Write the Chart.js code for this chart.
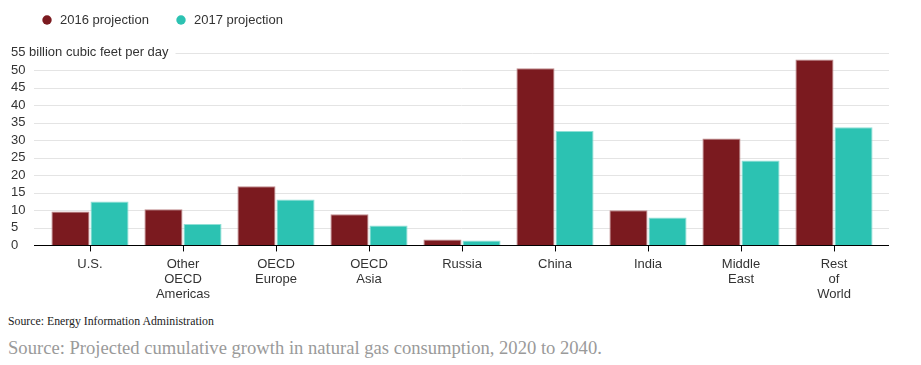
<!DOCTYPE html>
<html>
<head>
<meta charset="utf-8">
<script src="https://cdn.jsdelivr.net/npm/chart.js@4"></script>
<style>
  html, body { margin: 0; padding: 0; background: #fff; }
  #wrap { position: relative; width: 921px; height: 365px; overflow: hidden; }
  #c { position: absolute; left: 0; top: 0; }
  .src { position: absolute; left: 8px; top: 314px; font-family: "Liberation Serif", "DejaVu Serif", serif; font-size: 11.8px; color: #222; white-space: nowrap; }
  .sub { position: absolute; left: 8px; top: 337px; font-family: "Liberation Serif", "DejaVu Serif", serif; font-size: 18.6px; color: #9a9a9a; white-space: nowrap; }
</style>
</head>
<body>
<div id="wrap">
  <canvas id="c" width="921" height="310"></canvas>
  <div class="src">Source: Energy Information Administration</div>
  <div class="sub">Source: Projected cumulative growth in natural gas consumption, 2020 to 2040.</div>
</div>
<script>
const categories = [["U.S."], ["Other", "OECD", "Americas"], ["OECD", "Europe"], ["OECD", "Asia"], ["Russia"], ["China"], ["India"], ["Middle", "East"], ["Rest", "of", "World"]];
const seriesNames = ["2016 projection", "2017 projection"];
const values2016 = [9.7, 10.3, 16.9, 8.9, 1.7, 50.5, 10.0, 30.5, 53.0];
const values2017 = [12.5, 6.1, 13.1, 5.7, 1.4, 32.6, 8.0, 24.2, 33.7];
const yTickLabels = ["0", "5", "10", "15", "20", "25", "30", "35", "40", "45", "50", "55 billion cubic feet per day"];
const colors = ["#7b1a1f", "#2cc2b2"];
const borderColors = ["#c08a8d", "#8fe0d6"];

Chart.defaults.font.family = '"Liberation Sans", Arial, sans-serif';
Chart.defaults.font.size = 13;
Chart.defaults.color = '#333';

const GRID_LEFT = 34, GRID_RIGHT = 889, LABEL_X = 11, AREA_LEFT = 43.5;

const gridPlugin = {
  id: 'gridPlugin',
  beforeDatasetsDraw(chart) {
    const ctx = chart.ctx;
    const y = chart.scales.y;
    ctx.save();
    ctx.lineWidth = 1;
    ctx.strokeStyle = '#e4e4e4';
    const n = y.ticks.length;
    y.ticks.forEach((t, i) => {
      if (t.value === 0) return;
      const py = Math.round(y.getPixelForValue(t.value)) + 0.5;
      let x0 = GRID_LEFT;
      if (i === n - 1) {
        ctx.font = '13px "Liberation Sans", Arial, sans-serif';
        x0 = LABEL_X + ctx.measureText(yTickLabels[i]).width + 7;
      }
      ctx.beginPath();
      ctx.moveTo(x0, py);
      ctx.lineTo(GRID_RIGHT, py);
      ctx.stroke();
    });
    ctx.restore();
  },
  afterDatasetsDraw(chart) {
    const ctx = chart.ctx;
    const y = chart.scales.y;
    const py = Math.round(y.getPixelForValue(0)) + 0.5;
    ctx.save();
    ctx.strokeStyle = '#000';
    ctx.lineWidth = 1.2;
    ctx.beginPath();
    ctx.moveTo(GRID_LEFT, py);
    ctx.lineTo(GRID_RIGHT, py);
    ctx.stroke();
    ctx.restore();
  },
  afterDraw(chart) {
    const ctx = chart.ctx;
    ctx.save();
    ctx.font = '13px "Liberation Sans", Arial, sans-serif';
    ctx.textBaseline = 'middle';
    ctx.textAlign = 'left';
    let x = 40.5;
    const cy = 20;
    chart.data.datasets.forEach((ds) => {
      ctx.fillStyle = ds.backgroundColor;
      ctx.beginPath();
      ctx.arc(x + 6.5, cy, 4.7, 0, Math.PI * 2);
      ctx.fill();
      ctx.fillStyle = '#333';
      ctx.fillText(ds.label, x + 19.5, cy);
      x += 19.5 + ctx.measureText(ds.label).width + 25.6;
    });
    ctx.restore();
  }
};

new Chart(document.getElementById('c'), {
  type: 'bar',
  data: {
    labels: categories,
    datasets: [
      { label: seriesNames[0], data: values2016, backgroundColor: colors[0], borderColor: borderColors[0], borderWidth: 1, categoryPercentage: 0.84, barPercentage: 0.975 },
      { label: seriesNames[1], data: values2017, backgroundColor: colors[1], borderColor: borderColors[1], borderWidth: 1, categoryPercentage: 0.84, barPercentage: 0.975 }
    ]
  },
  options: {
    responsive: false,
    animation: false,
    devicePixelRatio: 1,
    layout: { padding: { left: LABEL_X, right: 40.5, top: 52.5, bottom: 2.7 } },
    plugins: { legend: { display: false }, tooltip: { enabled: false } },
    scales: {
      x: {
        grid: { display: true, drawOnChartArea: false, drawTicks: true, tickLength: 6, color: '#000', offset: false },
        border: { display: false },
        ticks: { padding: 5.5, color: '#333', font: { size: 13, lineHeight: 1.15 }, maxRotation: 0, autoSkip: false }
      },
      y: {
        min: 0, max: 55,
        afterFit: (s) => { s.width = AREA_LEFT - LABEL_X; },
        grid: { display: false, drawTicks: false },
        border: { display: false },
        ticks: {
          stepSize: 5,
          maxTicksLimit: 20,
          autoSkip: false,
          mirror: true,
          padding: LABEL_X - AREA_LEFT,
          color: '#333',
          font: { size: 13 },
          callback: (v, i) => yTickLabels[i]
        }
      }
    }
  },
  plugins: [gridPlugin]
});
</script>
</body>
</html>
